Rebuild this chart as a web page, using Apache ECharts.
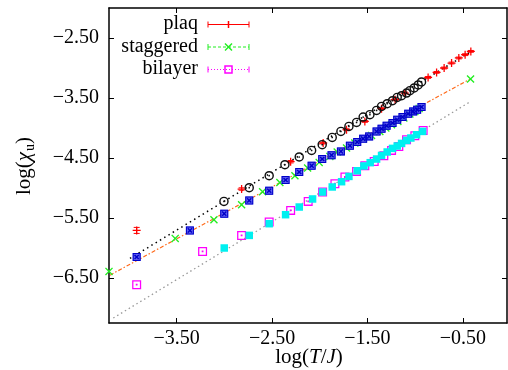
<!DOCTYPE html>
<html>
<head>
<meta charset="utf-8">
<script src="https://cdn.jsdelivr.net/npm/echarts@6/dist/echarts.min.js"></script>
<style>
  html, body { margin: 0; padding: 0; background: #fff; }
  #chart { width: 508px; height: 370px; }
</style>
</head>
<body>
<div id="chart"></div>
<script>
// ---- axis ticks ----
const xTicks = [-3.5, -2.5, -1.5, -0.5];
const yTicks = [-6.5, -5.5, -4.5, -3.5, -2.5];

// ---- plaquette: main points with error bars ----
const plaqX = [-3.919, -2.819, -2.305, -1.964, -1.719, -1.527, -1.352, -1.210, -1.108, -0.864, -0.775, -0.696, -0.618, -0.542, -0.476, -0.416];
const plaqY = [-5.707, -5.017, -4.562, -4.250, -4.028, -3.890, -3.678, -3.528, -3.417, -3.157, -3.073, -3.000, -2.917, -2.833, -2.778, -2.723];
const plaqErr = [0.05, 0.02, 0.02, 0.015, 0.015, 0.015, 0.015, 0.015, 0.015, 0.015, 0.015, 0.015, 0.015, 0.015, 0.015, 0.015];

// ---- plaquette: dense set ----
const plaqDenseX = [-3.004, -2.739, -2.530, -2.365, -2.215, -2.085, -1.974, -1.869, -1.778, -1.694, -1.614, -1.545, -1.474, -1.404, -1.352, -1.293, -1.237, -1.188, -1.142, -1.090, -1.055, -1.010, -0.968, -0.933];
const plaqDenseY = [-5.223, -4.995, -4.795, -4.612, -4.483, -4.373, -4.278, -4.157, -4.057, -3.973, -3.907, -3.817, -3.778, -3.707, -3.640, -3.595, -3.545, -3.490, -3.462, -3.417, -3.378, -3.333, -3.283, -3.233];

// ---- staggered: main points ----
const staggeredX = [-4.209, -3.515, -3.109, -2.819, -2.599, -2.418, -2.260, -2.127, -2.006, -1.894, -1.817, -1.719, -1.632, -1.545, -1.457, -1.370, -1.307, -1.247, -1.181, -1.118, -1.055, -1.003, -0.958, -0.419];
const staggeredY = [-6.390, -5.840, -5.528, -5.278, -5.062, -4.907, -4.795, -4.667, -4.573, -4.473, -4.400, -4.333, -4.250, -4.183, -4.123, -4.057, -4.000, -3.945, -3.890, -3.833, -3.767, -3.723, -3.673, -3.183];

// ---- staggered: dense set ----
const staggeredDenseX = [-3.919, -3.361, -3.001, -2.739, -2.530, -2.358, -2.215, -2.085, -1.974, -1.876, -1.778, -1.684, -1.607, -1.545, -1.482, -1.404, -1.352, -1.299, -1.237, -1.188, -1.132, -1.073, -1.021, -0.979, -0.933];
const staggeredDenseY = [-6.150, -5.707, -5.428, -5.207, -5.045, -4.867, -4.733, -4.628, -4.517, -4.453, -4.390, -4.295, -4.233, -4.178, -4.140, -4.057, -4.012, -3.962, -3.917, -3.862, -3.817, -3.762, -3.723, -3.695, -3.650];

// ---- bilayer: main points ----
const bilayerX = [-3.919, -3.228, -2.819, -2.530, -2.305, -2.121, -1.970, -1.841, -1.736, -1.614, -1.527, -1.429, -1.328, -1.247, -1.171, -1.090, -1.003, -0.916];
const bilayerY = [-6.612, -6.057, -5.790, -5.567, -5.373, -5.223, -5.067, -4.928, -4.817, -4.723, -4.628, -4.557, -4.462, -4.373, -4.307, -4.195, -4.128, -4.040];

// ---- bilayer: dense set ----
const bilayerDenseX = [-3.001, -2.739, -2.530, -2.358, -2.215, -2.075, -1.970, -1.869, -1.771, -1.694, -1.607, -1.537, -1.471, -1.404, -1.352, -1.293, -1.237, -1.188, -1.142, -1.090, -1.045, -0.985, -0.922];
const bilayerDenseY = [-6.000, -5.790, -5.595, -5.445, -5.317, -5.183, -5.067, -4.983, -4.895, -4.807, -4.712, -4.633, -4.578, -4.517, -4.457, -4.400, -4.340, -4.300, -4.257, -4.207, -4.167, -4.112, -4.057];

// ---- straight-line fits (end points) ----
const plaqFitX = [-3.989, -0.406];
const plaqFitY = [-6.174, -2.717];
const staggeredFitX = [-4.199, -0.416];
const staggeredFitY = [-6.453, -3.178];
const bilayerFitX = [-4.164, -0.434];
const bilayerFitY = [-7.167, -3.573];

const pairs = (xs, ys) => xs.map((x, i) => [x, ys[i]]);
const fmt = v => (v < 0 ? '\u2212' : '') + Math.abs(v).toFixed(2);

const SERIF = '"Liberation Serif", "DejaVu Serif", serif';

// marker shapes
const PLUS = 'path://M4.2,0H5.8V4.2H10V5.8H5.8V10H4.2V5.8H0V4.2H4.2Z';
const CROSS = 'path://M0,1.2L1.2,0L5,3.8L8.8,0L10,1.2L6.2,5L10,8.8L8.8,10L5,6.2L1.2,10L0,8.8L3.8,5Z';
const BOXX = 'path://M0,0H10V10H0Z M1.3,1.3V8.7H8.7V1.3Z M1.8,3L3,1.8L5,3.8L7,1.8L8.2,3L6.2,5L8.2,7L7,8.2L5,6.2L3,8.2L1.8,7L3.8,5Z';
const BOXDOT = 'path://M0,0H10V10H0Z M1.4,1.4V8.6H8.6V1.4Z M4,4H6V6H4Z';
const RINGDOT = 'path://M0,10A10,10 0 1,1 20,10A10,10 0 1,1 0,10Z M3,10A7,7 0 1,0 17,10A7,7 0 1,0 3,10Z M8.2,10A1.8,1.8 0 1,1 11.8,10A1.8,1.8 0 1,1 8.2,10Z';

const axisBase = {
  type: 'value',
  axisLine: { show: true, onZero: false, lineStyle: { color: '#000', width: 1.5 } },
  axisTick: { show: true, inside: true, length: 5, lineStyle: { color: '#000', width: 1 } },
  splitLine: { show: false },
  axisLabel: { show: false }
};

const xMin = -4.209, xMax = -0.037, yMin = -7.25, yMax = -2.0;

function fitLine(name, xs, ys, color, dash, width) {
  return {
    name, type: 'line', data: pairs(xs, ys), showSymbol: false, symbol: 'none',
    lineStyle: { color, width, type: dash }, z: 1, silent: true
  };
}
function scatter(name, xs, ys, symbol, size, color, z) {
  return {
    name, type: 'scatter', data: pairs(xs, ys), symbol, symbolSize: size,
    itemStyle: { color, opacity: 1 }, z, silent: true
  };
}

const option = {
  animation: false,
  backgroundColor: '#fff',
  grid: { left: 109, right: 1, top: 8, bottom: 47, outerBoundsMode: 'none', containLabel: false },
  xAxis: [
    Object.assign({}, axisBase, {
      position: 'bottom', min: xMin, max: xMax,
      axisTick: Object.assign({}, axisBase.axisTick, { customValues: xTicks }),
      axisLabel: { show: true, customValues: xTicks, formatter: fmt, color: '#000', fontFamily: SERIF, fontSize: 20, margin: 6 }
    }),
    Object.assign({}, axisBase, {
      position: 'top', min: xMin, max: xMax,
      axisTick: Object.assign({}, axisBase.axisTick, { customValues: xTicks })
    })
  ],
  yAxis: [
    Object.assign({}, axisBase, {
      position: 'left', min: yMin, max: yMax,
      axisTick: Object.assign({}, axisBase.axisTick, { customValues: yTicks }),
      axisLabel: { show: true, customValues: yTicks, formatter: fmt, color: '#000', fontFamily: SERIF, fontSize: 20, margin: 10 }
    }),
    Object.assign({}, axisBase, {
      position: 'right', min: yMin, max: yMax,
      axisTick: Object.assign({}, axisBase.axisTick, { customValues: yTicks })
    })
  ],
  series: [
    fitLine('plaq fit', plaqFitX, plaqFitY, '#000', [1.5, 3.5], 1.5),
    fitLine('staggered fit', staggeredFitX, staggeredFitY, '#ff6a1a', [4, 2, 1.5, 2], 1.2),
    fitLine('bilayer fit', bilayerFitX, bilayerFitY, '#9a9a9a', [1.5, 3], 1.3),
    {
      name: 'plaq errors', type: 'custom', z: 2, silent: true,
      data: plaqX.map((x, i) => [x, plaqY[i], plaqErr[i]]),
      encode: { x: 0, y: 1 },
      renderItem(params, api) {
        const x = api.value(0), y = api.value(1), e = api.value(2);
        const top = api.coord([x, y + e]);
        const bot = api.coord([x, y - e]);
        const st = { stroke: '#ff0000', lineWidth: 1 };
        return {
          type: 'group',
          children: [
            { type: 'line', shape: { x1: top[0], y1: top[1], x2: bot[0], y2: bot[1] }, style: st },
            { type: 'line', shape: { x1: top[0] - 3, y1: top[1], x2: top[0] + 3, y2: top[1] }, style: st },
            { type: 'line', shape: { x1: bot[0] - 3, y1: bot[1], x2: bot[0] + 3, y2: bot[1] }, style: st }
          ]
        };
      }
    },
    scatter('plaq', plaqX, plaqY, PLUS, 8, '#ff0000', 3),
    scatter('staggered', staggeredX, staggeredY, CROSS, 8, '#22ee22', 3),
    scatter('bilayer', bilayerX, bilayerY, BOXDOT, 9, '#ff00ff', 3),
    scatter('plaq dense', plaqDenseX, plaqDenseY, RINGDOT, 9.5, '#111', 4),
    scatter('staggered dense fill', staggeredDenseX, staggeredDenseY, 'rect', 8, 'rgba(70,70,240,0.85)', 4),
    scatter('staggered dense', staggeredDenseX, staggeredDenseY, BOXX, 8, '#0000c8', 5),
    scatter('bilayer dense', bilayerDenseX, bilayerDenseY, 'rect', 7.5, '#00f0f0', 5)
  ],
  graphic: [
    // key
    { type: 'text', x: 198, y: 24, style: { text: 'plaq', fill: '#000', font: '20px ' + SERIF, align: 'right', verticalAlign: 'middle' } },
    { type: 'text', x: 198, y: 46.5, style: { text: 'staggered', fill: '#000', font: '20px ' + SERIF, align: 'right', verticalAlign: 'middle' } },
    { type: 'text', x: 198, y: 69, style: { text: 'bilayer', fill: '#000', font: '20px ' + SERIF, align: 'right', verticalAlign: 'middle' } },

    { type: 'line', shape: { x1: 208, y1: 24.5, x2: 249, y2: 24.5 }, style: { stroke: '#ff0000', lineWidth: 1 } },
    { type: 'line', shape: { x1: 208, y1: 21.5, x2: 208, y2: 27.5 }, style: { stroke: '#ff0000', lineWidth: 1 } },
    { type: 'line', shape: { x1: 249, y1: 21.5, x2: 249, y2: 27.5 }, style: { stroke: '#ff0000', lineWidth: 1 } },
    { type: 'line', shape: { x1: 228.5, y1: 21, x2: 228.5, y2: 28 }, style: { stroke: '#ff0000', lineWidth: 1.5 } },

    { type: 'line', shape: { x1: 208, y1: 47, x2: 249, y2: 47 }, style: { stroke: '#22ee22', lineWidth: 1, lineDash: [3, 2] } },
    { type: 'line', shape: { x1: 208, y1: 44, x2: 208, y2: 50 }, style: { stroke: '#22ee22', lineWidth: 1 } },
    { type: 'line', shape: { x1: 249, y1: 44, x2: 249, y2: 50 }, style: { stroke: '#22ee22', lineWidth: 1 } },
    { type: 'line', shape: { x1: 225, y1: 43.5, x2: 232, y2: 50.5 }, style: { stroke: '#22ee22', lineWidth: 1.5 } },
    { type: 'line', shape: { x1: 225, y1: 50.5, x2: 232, y2: 43.5 }, style: { stroke: '#22ee22', lineWidth: 1.5 } },

    { type: 'line', shape: { x1: 208, y1: 69.5, x2: 249, y2: 69.5 }, style: { stroke: '#ff00ff', lineWidth: 1, lineDash: [1, 2] } },
    { type: 'line', shape: { x1: 208, y1: 66.5, x2: 208, y2: 72.5 }, style: { stroke: '#ff00ff', lineWidth: 1 } },
    { type: 'line', shape: { x1: 249, y1: 66.5, x2: 249, y2: 72.5 }, style: { stroke: '#ff00ff', lineWidth: 1 } },
    { type: 'rect', shape: { x: 225, y: 66, width: 7, height: 7 }, style: { fill: 'none', stroke: '#ff00ff', lineWidth: 1.5 } },

    // axis titles
    {
      type: 'text', x: 309, y: 357,
      style: {
        text: '{a|log(}{i|T}{a|/}{i|J}{a|)}',
        align: 'center', verticalAlign: 'middle',
        rich: {
          a: { font: '21px ' + SERIF, fill: '#000' },
          i: { font: 'italic 21px ' + SERIF, fill: '#000' }
        }
      }
    },
    {
      type: 'text', x: 24, y: 166, rotation: Math.PI / 2,
      style: {
        text: '{a|log(}{g|\u03C7}{s|u}{a|)}',
        align: 'center', verticalAlign: 'middle',
        rich: {
          a: { font: '21px ' + SERIF, fill: '#000', lineHeight: 26 },
          g: { font: 'italic 21px ' + SERIF, fill: '#000', lineHeight: 26 },
          s: { font: '14px ' + SERIF, fill: '#000', lineHeight: 14, padding: [12, 0, 0, 1] }
        }
      }
    }
  ]
};

const chart = echarts.init(document.getElementById('chart'), null, { renderer: 'canvas' });
chart.setOption(option);
</script>
</body>
</html>
